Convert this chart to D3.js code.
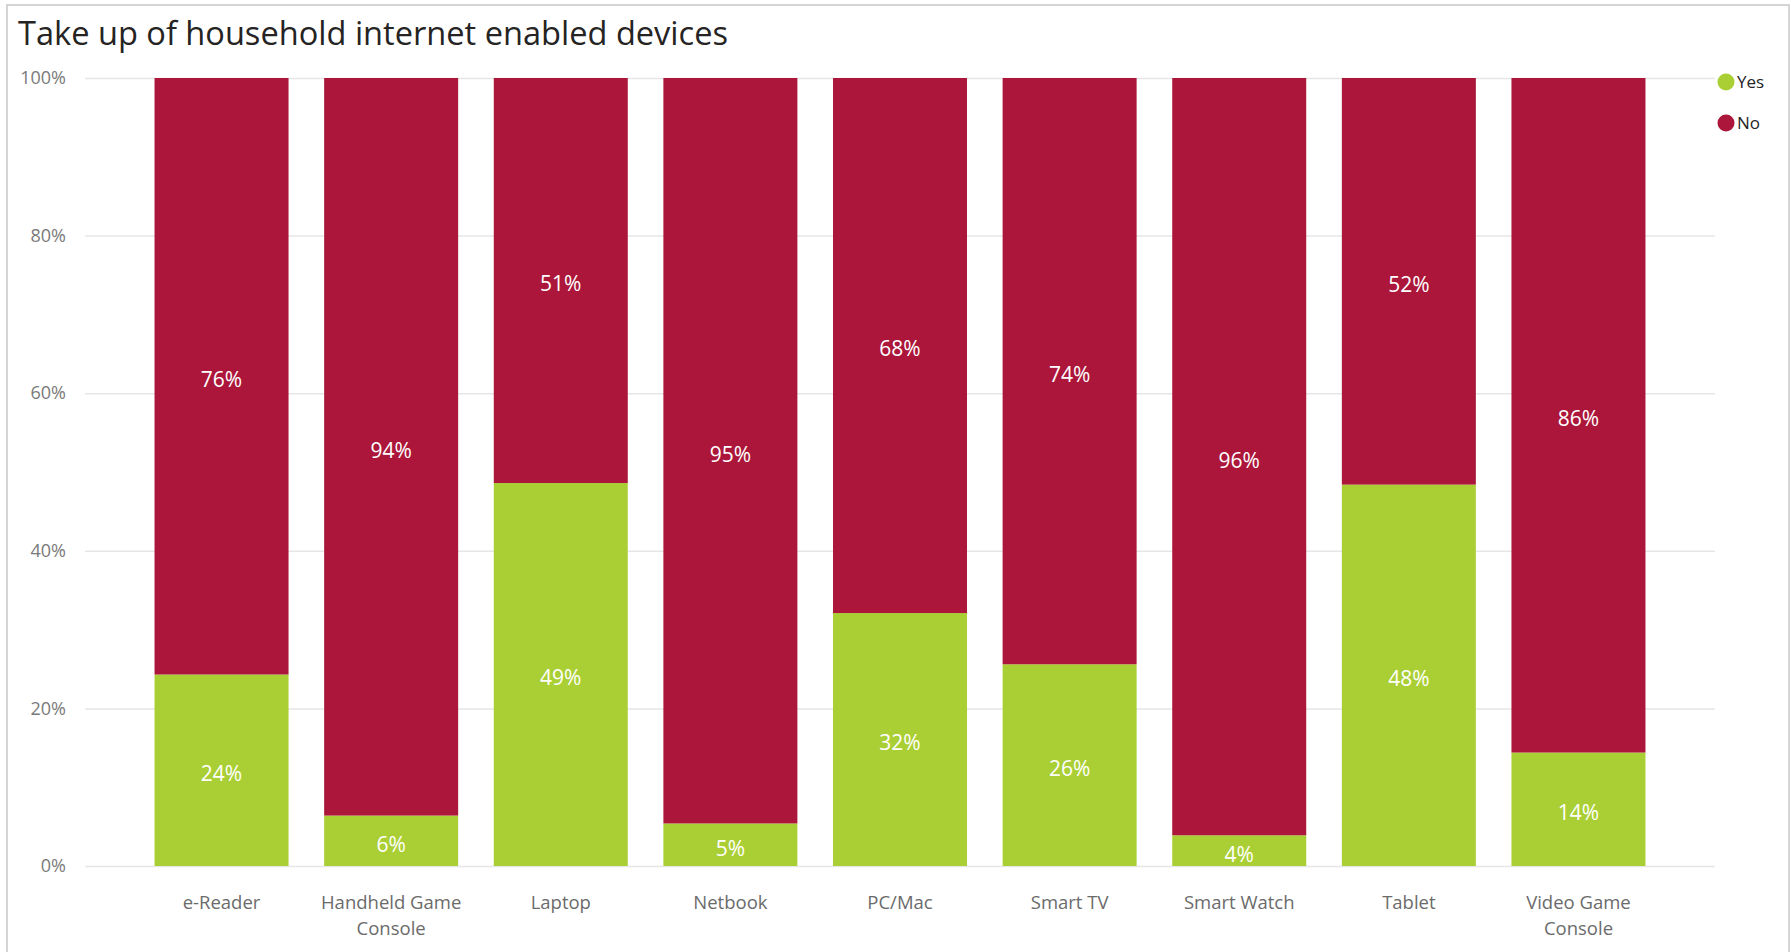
<!DOCTYPE html>
<html>
<head>
<meta charset="utf-8">
<script src="https://cdn.jsdelivr.net/npm/d3@7"></script>
<style>
  body { margin: 0; background: #ffffff; }
  svg { display: block; font-family: "Open Sans", "Noto Sans", sans-serif; }
</style>
</head>
<body>
<div id="d3-container"></div>
<script>
/* CONSTANTS AND GLOBALS */
const width = 1791,
  height = 952,
  margin = { top: 78, bottom: 86, left: 85, right: 76 };

/* DATA */
const title = "Take up of household internet enabled devices";
const categories = ["e-Reader", "Handheld Game Console", "Laptop", "Netbook", "PC/Mac",
  "Smart TV", "Smart Watch", "Tablet", "Video Game Console"];
// share of households, percent
const yesValues = [24.3, 6.4, 48.6, 5.4, 32.1, 25.6, 3.9, 48.4, 14.4];
const noValues = [75.7, 93.6, 51.4, 94.6, 67.9, 74.4, 96.1, 51.6, 85.6];
const seriesNames = ["Yes", "No"];
const seriesColors = ["#AACF34", "#AB163A"];
const yTicks = [0, 20, 40, 60, 80, 100];

let svg;
let xScale;
let yScale;

init();

function init() {
  // build rows for the stack from the named arrays
  const rows = categories.map((c, i) => ({ category: c, Yes: yesValues[i], No: noValues[i] }));
  const stacked = d3.stack().keys(seriesNames)(rows);

  //SCALES
  xScale = d3.scaleBand()
    .domain(categories)
    .range([margin.left, width - margin.right])
    .paddingInner(0.21)
    .paddingOuter(0.41);

  yScale = d3.scaleLinear()
    .domain([0, 100])
    .range([height - margin.bottom, margin.top]);

  colorScale = d3.scaleOrdinal()
    .domain(seriesNames)
    .range(seriesColors);

  //Creating SVG
  svg = d3.select("#d3-container")
    .append("svg")
    .attr("width", width)
    .attr("height", height);

  // frame around the visual
  svg.append("rect")
    .attr("x", 7)
    .attr("y", 5)
    .attr("width", width - 9)
    .attr("height", height + 20)
    .attr("fill", "none")
    .attr("stroke", "#c8c8c8")
    .attr("stroke-width", 1.5);

  svg.append("text")
    .attr("x", 18)
    .attr("y", 45)
    .attr("font-size", 32.6)
    .attr("fill", "#252423")
    .text(title);

  //AXES
  const yAxis = d3.axisLeft(yScale)
    .tickValues(yTicks)
    .tickFormat(d => d + "%")
    .tickSizeInner(-(width - margin.left - margin.right))
    .tickSizeOuter(0)
    .tickPadding(19);

  svg.append("g")
    .attr("class", "yAxis")
    .attr("transform", `translate(${margin.left}, 0)`)
    .call(yAxis)
    .call(g => g.select(".domain").remove())
    .call(g => g.selectAll("line").attr("stroke", "#e6e6e6").attr("stroke-width", 1.5))
    .call(g => g.selectAll("text")
      .attr("font-size", 18)
      .attr("font-family", "Open Sans")
      .attr("fill", "#7a7a7a"));

  const xAxis = d3.axisBottom(xScale)
    .tickSize(0)
    .tickPadding(30);

  svg.append("g")
    .attr("class", "xAxis")
    .attr("transform", `translate(0, ${height - margin.bottom})`)
    .call(xAxis)
    .call(g => g.select(".domain").remove())
    .call(g => g.selectAll("text")
      .attr("font-size", 18.5)
      .attr("font-family", "Open Sans")
      .attr("fill", "#6b6b6b")
      .call(wrap, xScale.step()));

  //BARS
  const layers = svg.append("g")
    .selectAll("g")
    .data(stacked)
    .join("g")
    .attr("fill", d => colorScale(d.key));

  layers.selectAll("rect")
    .data(d => d)
    .join("rect")
    .attr("x", d => xScale(d.data.category))
    .attr("width", xScale.bandwidth())
    .attr("y", d => yScale(d[1]))
    .attr("height", d => yScale(d[0]) - yScale(d[1]));

  //DATA LABELS
  layers.selectAll("text")
    .data(d => d.map(p => ({ p: p, key: d.key })))
    .join("text")
    .attr("x", d => xScale(d.p.data.category) + xScale.bandwidth() / 2)
    .attr("y", d => (yScale(d.p[0]) + yScale(d.p[1])) / 2)
    .attr("dy", "0.52em")
    .attr("text-anchor", "middle")
    .attr("font-size", 21)
    .attr("fill", "#ffffff")
    .text(d => Math.round(d.p.data[d.key]) + "%");

  //LEGEND
  const legend = svg.append("g")
    .selectAll("g")
    .data(seriesNames)
    .join("g")
    .attr("transform", (d, i) => `translate(1726, ${82 + i * 41})`);

  legend.append("circle")
    .attr("r", 8.5)
    .attr("fill", d => colorScale(d));

  legend.append("text")
    .attr("x", 11)
    .attr("dy", "0.36em")
    .attr("font-size", 17)
    .attr("fill", "#252423")
    .text(d => d);
}

// break long category names onto two lines
function wrap(texts, maxWidth) {
  texts.each(function () {
    const text = d3.select(this);
    const words = text.text().split(/\s+/);
    const y = text.attr("y");
    const dy = parseFloat(text.attr("dy"));
    let line = [];
    let lineNumber = 0;
    text.text(null);
    let tspan = text.append("tspan").attr("x", 0).attr("y", y).attr("dy", dy + "em");
    words.forEach(word => {
      line.push(word);
      tspan.text(line.join(" "));
      if (tspan.node().getComputedTextLength() > maxWidth && line.length > 1) {
        line.pop();
        tspan.text(line.join(" "));
        line = [word];
        lineNumber++;
        tspan = text.append("tspan")
          .attr("x", 0)
          .attr("y", y)
          .attr("dy", (dy + lineNumber * 1.38) + "em")
          .text(word);
      }
    });
  });
}
</script>
</body>
</html>
